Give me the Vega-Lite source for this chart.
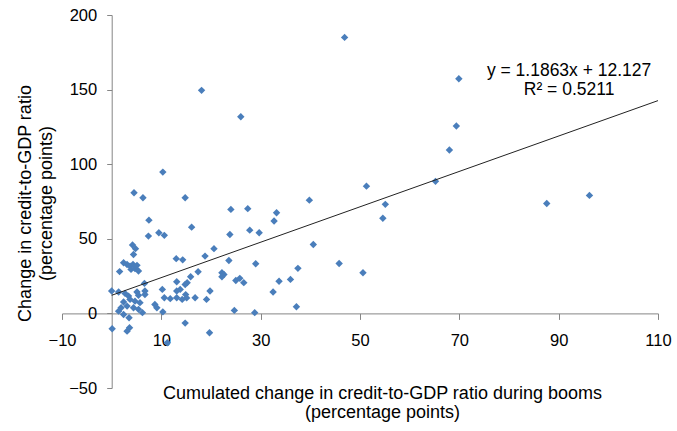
{
  "$schema": "https://vega.github.io/schema/vega-lite/v6.json",
  "width": 596,
  "height": 373,
  "autosize": {"type": "none"},
  "padding": {"left": 62, "top": 15, "right": 19, "bottom": 43},
  "background": "white",
  "config": {
    "view": {"stroke": null},
    "font": "Liberation Sans",
    "axis": {"grid": false, "domainColor": "#868686", "tickColor": "#868686", "labelColor": "#000000", "titleColor": "#000000", "labelFont": "Liberation Sans", "titleFont": "Liberation Sans", "labelFontSize": 16.5, "titleFontSize": 18, "titleFontWeight": "normal"}
  },
  "datasets": {
    "points": [
      {"x": 46.9, "y": 185}, {"x": 18.1, "y": 149.5}, {"x": 26.0, "y": 131.8}, {"x": 69.9, "y": 157.3},
      {"x": 69.4, "y": 125.6}, {"x": 68.0, "y": 109.5}, {"x": 65.2, "y": 88.5}, {"x": 87.6, "y": 73.7},
      {"x": 96.2, "y": 79.1}, {"x": 51.3, "y": 85.3}, {"x": 55.1, "y": 73.1}, {"x": 54.6, "y": 63.8},
      {"x": 39.8, "y": 75.9}, {"x": 40.6, "y": 46.2}, {"x": 45.8, "y": 33.5}, {"x": 50.6, "y": 27.3},
      {"x": 37.5, "y": 30.2}, {"x": 37.2, "y": 4.5}, {"x": 36.0, "y": 22.8}, {"x": 33.7, "y": 21.6},
      {"x": 32.5, "y": 14.3}, {"x": 33.2, "y": 67.5}, {"x": 32.7, "y": 61.9}, {"x": 27.4, "y": 70.2},
      {"x": 24.0, "y": 69.7}, {"x": 23.8, "y": 52.9}, {"x": 27.8, "y": 55.8}, {"x": 29.7, "y": 54.1},
      {"x": 29.0, "y": 33.3}, {"x": 28.8, "y": 0.5}, {"x": 24.7, "y": 2.0}, {"x": 23.6, "y": 35.5},
      {"x": 25.0, "y": 22.1}, {"x": 25.8, "y": 23.5}, {"x": 26.6, "y": 20.6}, {"x": 22.2, "y": 27.3},
      {"x": 22.6, "y": 26.1}, {"x": 22.2, "y": 24.6}, {"x": 20.6, "y": 43.4}, {"x": 18.8, "y": 38.4},
      {"x": 19.7, "y": -13.0}, {"x": 19.8, "y": 15.0}, {"x": 19.1, "y": 9.4}, {"x": 17.4, "y": 27.9},
      {"x": 16.8, "y": 10.5}, {"x": 15.9, "y": 24.6}, {"x": 15.2, "y": 20.6}, {"x": 16.1, "y": 57.8},
      {"x": 14.8, "y": 77.5}, {"x": 10.3, "y": 94.7}, {"x": 4.5, "y": 80.9}, {"x": 6.3, "y": 77.5},
      {"x": 7.5, "y": 62.5}, {"x": 7.4, "y": 51.8}, {"x": 9.5, "y": 54.1}, {"x": 10.6, "y": 52.3},
      {"x": 13.0, "y": 36.7}, {"x": 14.3, "y": 35.9}, {"x": 14.8, "y": -6.5}, {"x": 11.2, "y": -19.7},
      {"x": 13.1, "y": 21.2}, {"x": 14.8, "y": 19.4}, {"x": 13.1, "y": 15.0}, {"x": 13.8, "y": 16.1},
      {"x": 10.2, "y": 16.1}, {"x": 10.6, "y": 10.5}, {"x": 11.8, "y": 9.9}, {"x": 13.1, "y": 10.5},
      {"x": 14.2, "y": 9.4}, {"x": 14.9, "y": 12.6}, {"x": 15.1, "y": 10.4}, {"x": 8.7, "y": 6.0},
      {"x": 9.1, "y": 3.8}, {"x": 10.3, "y": 1.0}, {"x": 6.6, "y": 20.1}, {"x": 6.7, "y": 15.0},
      {"x": 6.7, "y": 12.7}, {"x": 4.2, "y": 45.8}, {"x": 4.8, "y": 43.4}, {"x": 4.4, "y": 39.5},
      {"x": 2.4, "y": 34.0}, {"x": 3.1, "y": 32.8}, {"x": 3.7, "y": 31.7}, {"x": 4.3, "y": 32.8},
      {"x": 5.1, "y": 32.2}, {"x": 3.9, "y": 29.5}, {"x": 4.7, "y": 30.0}, {"x": 5.4, "y": 28.4},
      {"x": 1.6, "y": 28.0}, {"x": 0.0, "y": 15.0}, {"x": 1.4, "y": 14.3}, {"x": 2.7, "y": 13.4},
      {"x": 3.4, "y": 11.6}, {"x": 5.1, "y": 14.3}, {"x": 5.4, "y": 12.1}, {"x": 2.4, "y": 7.6},
      {"x": 3.7, "y": 9.4}, {"x": 4.7, "y": 8.2}, {"x": 3.1, "y": 4.9}, {"x": 4.4, "y": 3.8},
      {"x": 5.7, "y": 7.2}, {"x": 5.4, "y": 2.7}, {"x": 1.9, "y": 3.8}, {"x": 1.4, "y": 1.5},
      {"x": 2.4, "y": -0.7}, {"x": 3.5, "y": -2.9}, {"x": 0.1, "y": -10.3}, {"x": 3.6, "y": -9.6},
      {"x": 3.1, "y": -11.9}, {"x": 6.2, "y": 0.5}
    ],
    "trend": [{"x": 0, "y": 12.127}, {"x": 110, "y": 142.62}],
    "labels": [
      {"x": 92.1, "y": 162.3, "text": "y = 1.1863x + 12.127"},
      {"x": 92.1, "y": 149.5, "text": "R² = 0.5211"}
    ]
  },
  "layer": [
    {
      "data": {"name": "points"},
      "mark": {"type": "point", "shape": "diamond", "filled": true, "size": 55, "color": "#4a7ebb", "opacity": 1},
      "encoding": {
        "x": {"field": "x", "type": "quantitative",
          "scale": {"domain": [-10, 110], "nice": false, "zero": false},
          "axis": {"values": [-10, 10, 30, 50, 70, 90, 110], "offset": -74.6, "tickSize": 6, "labelPadding": 13, "labelFlush": false, "labelOverlap": false,
            "title": ["Cumulated change in credit-to-GDP ratio during booms", "(percentage points)"],
            "titleX": 320, "titleY": 85.5, "titleBaseline": "alphabetic", "titleLineHeight": 19, "titleAnchor": "middle", "titleAlign": "center"}},
        "y": {"field": "y", "type": "quantitative",
          "scale": {"domain": [-50, 200], "nice": false, "zero": false},
          "axis": {"values": [-50, 0, 50, 100, 150, 200], "offset": -49.7, "tickSize": 5, "labelPadding": 10, "labelFlush": false, "labelOverlap": false,
            "title": ["Change in credit-to-GDP ratio", "(percentage points)"],
            "titleX": -81, "titleY": 188, "titleAngle": 270, "titleBaseline": "alphabetic", "titleLineHeight": 21, "titleAlign": "center"}}
      }
    },
    {
      "data": {"name": "trend"},
      "mark": {"type": "line", "color": "#222222", "strokeWidth": 1},
      "encoding": {
        "x": {"field": "x", "type": "quantitative"},
        "y": {"field": "y", "type": "quantitative"}
      }
    },
    {
      "data": {"name": "labels"},
      "mark": {"type": "text", "fontSize": 17.5, "font": "Liberation Sans", "color": "#000000", "align": "center", "baseline": "middle"},
      "encoding": {
        "x": {"field": "x", "type": "quantitative"},
        "y": {"field": "y", "type": "quantitative"},
        "text": {"field": "text", "type": "nominal"}
      }
    }
  ]
}
